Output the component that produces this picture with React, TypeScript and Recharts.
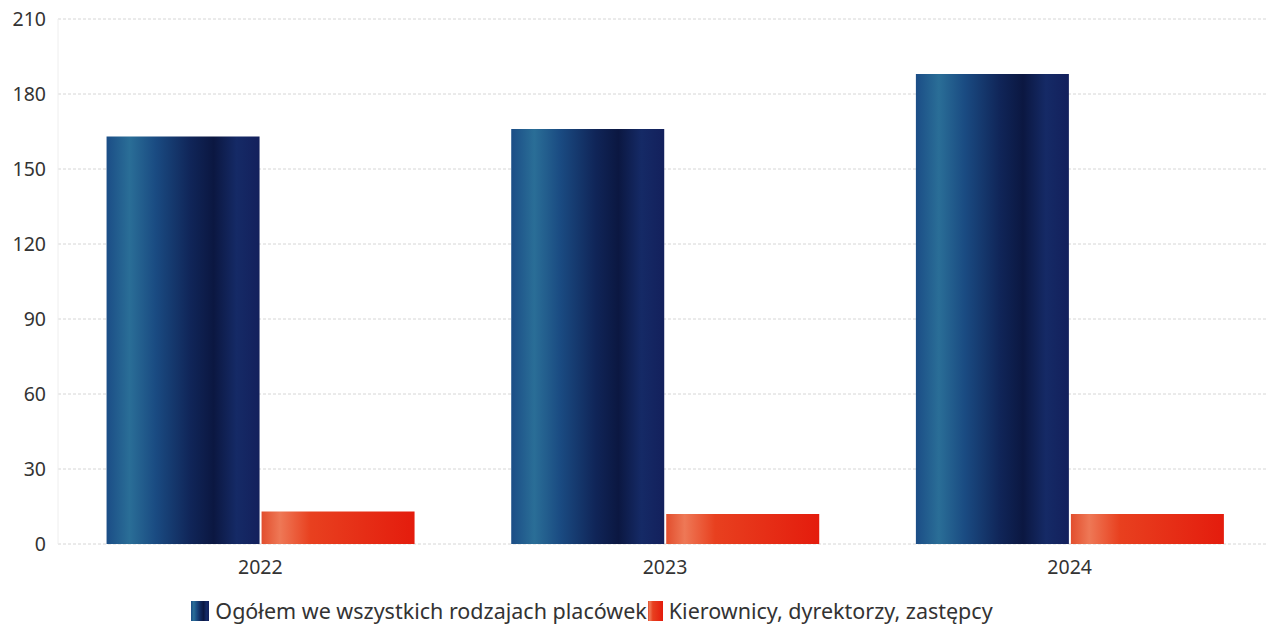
import { BarChart, Bar, XAxis, YAxis, CartesianGrid, Legend } from 'recharts';

const years = ['2022', '2023', '2024'];
const totalStaff = [163, 166, 188];
const managers = [13, 12, 12];
const yTicks = [0, 30, 60, 90, 120, 150, 180, 210];

const SERIES_TOTAL = 'Ogółem we wszystkich rodzajach placówek';
const SERIES_MANAGERS = 'Kierownicy, dyrektorzy, zastępcy';

const data = years.map((year, i) => ({
  year,
  total: totalStaff[i],
  managers: managers[i],
}));

const FONT = '"Noto Sans", "Open Sans", sans-serif';

function GradientDefs() {
  return (
    <defs>
      <linearGradient id="blueBar" x1="0" y1="0" x2="1" y2="0">
        <stop offset="0%" stopColor="#1b4d86" />
        <stop offset="15%" stopColor="#2a6e97" />
        <stop offset="32%" stopColor="#1a4b82" />
        <stop offset="55%" stopColor="#102558" />
        <stop offset="70%" stopColor="#0b1741" />
        <stop offset="85%" stopColor="#152a66" />
        <stop offset="100%" stopColor="#13205c" />
      </linearGradient>
      <linearGradient id="redBar" x1="0" y1="0" x2="1" y2="0">
        <stop offset="0%" stopColor="#e24e2d" />
        <stop offset="12%" stopColor="#ee7856" />
        <stop offset="32%" stopColor="#e8401f" />
        <stop offset="100%" stopColor="#e41c0d" />
      </linearGradient>
    </defs>
  );
}

function LegendContent() {
  const items = [
    { label: SERIES_TOTAL, fill: 'url(#blueBar)', w: 18, ml: 0 },
    { label: SERIES_MANAGERS, fill: 'url(#redBar)', w: 15, ml: 1 },
  ];
  return (
    <div
      style={{
        display: 'flex',
        justifyContent: 'center',
        fontFamily: FONT,
        fontSize: 21.5,
        color: '#333',
        paddingRight: 88,
        lineHeight: '24px',
      }}
    >
      {items.map((it) => (
        <span key={it.label} style={{ display: 'inline-flex', alignItems: 'center', marginLeft: it.ml }}>
          <svg width={it.w} height={20} style={{ marginRight: 6 }}>
            <rect x={0} y={0} width={it.w} height={20} fill={it.fill} />
          </svg>
          {it.label}
        </span>
      ))}
    </div>
  );
}

export default function App() {
  return (
    <div style={{ position: 'absolute', left: 0, top: 0, background: '#fff' }}>
      <BarChart
        width={1268}
        height={629}
        data={data}
        margin={{ top: 19, right: -4, left: 0, bottom: 0 }}
        barCategoryGap="12%"
        barGap={2}
      >
        <GradientDefs />
        <CartesianGrid vertical={false} stroke="#d6d6d6" strokeDasharray="3 2" />
        <XAxis
          dataKey="year"
          axisLine={false}
          tickLine={false}
          height={55}
          tickMargin={10}
          tick={{ fill: '#333', fontSize: 19.5, fontFamily: FONT }}
        />
        <YAxis
          domain={[0, 210]}
          ticks={yTicks}
          width={58}
          axisLine={{ stroke: '#eeeeee' }}
          tickLine={false}
          tickMargin={6}
          tick={{ fill: '#333', fontSize: 19.5, fontFamily: FONT }}
        />
        <Legend verticalAlign="bottom" height={30} content={<LegendContent />} />
        <Bar dataKey="total" name={SERIES_TOTAL} fill="url(#blueBar)" isAnimationActive={false} />
        <Bar dataKey="managers" name={SERIES_MANAGERS} fill="url(#redBar)" isAnimationActive={false} />
      </BarChart>
    </div>
  );
}
